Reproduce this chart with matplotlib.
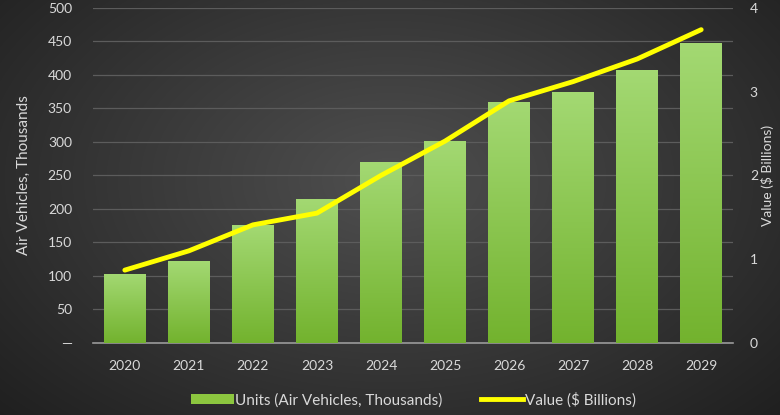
import numpy as np
import matplotlib.pyplot as plt
from matplotlib.lines import Line2D
from matplotlib.patches import Patch

years = ['2020', '2021', '2022', '2023', '2024', '2025', '2026', '2027', '2028', '2029']
units = [103, 122, 176, 215, 270, 302, 360, 374, 407, 447]
value = [0.87, 1.10, 1.41, 1.55, 2.00, 2.41, 2.89, 3.12, 3.39, 3.74]

plt.rcParams['font.family'] = ['Lato', 'DejaVu Sans']
txt = '#d9d9d9'

fig = plt.figure(figsize=(7.8, 4.15), dpi=100)

# radial gradient background
bg = fig.add_axes([0, 0, 1, 1], zorder=0)
yy, xx = np.mgrid[0:415, 0:780]
r = np.sqrt(((xx - 390) / 520.0) ** 2 + ((yy - 180) / 330.0) ** 2)
shade = np.clip(0.31 - 0.18 * r, 0.12, 0.31)
bg.imshow(np.dstack([shade] * 3), aspect='auto', extent=[0, 1, 0, 1])
bg.axis('off')

ax = fig.add_axes([0.119, 0.1735, 0.821, 0.8075], zorder=1)
ax.patch.set_alpha(0)
x = np.arange(len(years))
bars = ax.bar(x, units, width=0.65, color='#8cc63f', zorder=2)

# vertical green gradient inside each bar
grad = np.linspace(0, 1, 256).reshape(-1, 1)
top = np.array([0.64, 0.85, 0.45])
bot = np.array([0.45, 0.70, 0.18])
gimg = bot + (top - bot) * grad[..., None]
for b in bars:
    im = ax.imshow(gimg, aspect='auto', origin='lower', zorder=3,
                   extent=[b.get_x(), b.get_x() + b.get_width(), 0, b.get_height()])
    im.set_clip_path(b)

ax.set_xlim(-0.5, len(years) - 0.5)
ax.set_ylim(0, 500)
ax.set_yticks(range(0, 501, 50))
ax.set_yticklabels(['—'] + [str(v) for v in range(50, 501, 50)])
ax.set_xticks(x)
ax.set_xticklabels(years)
ax.grid(axis='y', color='#5c5c5c', linewidth=0.9, zorder=0)
ax.set_axisbelow(True)
for s in ['top', 'right', 'left']:
    ax.spines[s].set_visible(False)
ax.spines['bottom'].set_color('#9a9a9a')
ax.spines['bottom'].set_linewidth(1.2)
ax.tick_params(length=0, colors=txt, labelsize=10)
ax.tick_params(axis='x', pad=12)
ax.tick_params(axis='y', pad=15)
ax.set_ylabel('Air Vehicles, Thousands', color=txt, fontsize=11, labelpad=12)

ax2 = ax.twinx()
ax2.plot(x, value, color='#ffff00', linewidth=3.5, solid_capstyle='round', zorder=5)
ax2.set_ylim(0, 4)
ax2.set_yticks(range(0, 5))
for s in ax2.spines.values():
    s.set_visible(False)
ax2.tick_params(length=0, colors=txt, labelsize=10, pad=12)
ax2.set_ylabel('Value ($ Billions)', color=txt, fontsize=10, labelpad=2)

handles = [Patch(facecolor='#8cc63f', edgecolor='none'),
           Line2D([0], [0], color='#ffff00', linewidth=3.5)]
fig.legend(handles, ['Units (Air Vehicles, Thousands)', 'Value ($ Billions)'],
           loc='lower center', bbox_to_anchor=(0.53, -0.015), ncol=2, frameon=False,
           labelcolor=txt, fontsize=11, handlelength=2.8, handletextpad=0.1,
           columnspacing=2.5)

fig.savefig('out.png', dpi=100)
